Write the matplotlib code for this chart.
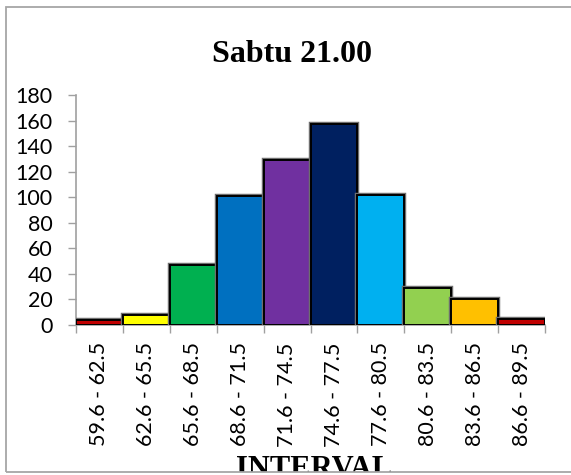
import matplotlib
matplotlib.use("Agg")
import matplotlib.pyplot as plt
from matplotlib.patches import Rectangle
import matplotlib.patheffects as pe

# ---- data ----
categories = ["59.6 - 62.5", "62.6 - 65.5", "65.6 - 68.5", "68.6 - 71.5", "71.6 - 74.5",
              "74.6 - 77.5", "77.6 - 80.5", "80.6 - 83.5", "83.6 - 86.5", "86.6 - 89.5"]
frequencies = [4, 8, 47, 101, 129, 157, 102, 29, 20, 5]
bar_colors = ["#C00000", "#FFFF00", "#00B050", "#0070C0", "#7030A0",
              "#002060", "#00B0F0", "#92D050", "#FFC000", "#C00000"]
y_ticks = [0, 20, 40, 60, 80, 100, 120, 140, 160, 180]
title = "Sabtu 21.00"
x_label = "INTERVAL"

W, H = 571, 475
fig = plt.figure(figsize=(W / 100, H / 100), dpi=100)
fig.patch.set_facecolor("white")

ax = fig.add_axes([76 / W, 1 - 325 / H, (545 - 76) / W, (325 - 95) / H])
xs = list(range(len(categories)))
bars = ax.bar(xs, frequencies, width=1.0, color=bar_colors, edgecolor="black",
              linewidth=1.4, zorder=3)
for b in bars:
    b.set_path_effects([pe.Stroke(linewidth=3.2, foreground="#6e6e6e"), pe.Normal()])

ax.set_xlim(-0.5, len(categories) - 0.5)
ax.set_ylim(0, 180)
ax.set_yticks(y_ticks)
ax.set_yticklabels([str(v) for v in y_ticks], fontfamily="Lato", fontsize=15.5)

ax.set_xticks([i - 0.5 for i in range(len(categories) + 1)])
ax.set_xticklabels([])
ax.set_xticks(xs, minor=True)
ax.set_xticklabels(categories, minor=True, rotation=90, fontfamily="Lato", fontsize=15.5,
                   va="top", ha="center")
ax.tick_params(axis="x", which="minor", length=0, pad=12.5)
ax.tick_params(axis="x", which="major", length=5.8, width=1, color="#a0a0a0", direction="out")
ax.tick_params(axis="y", length=5.8, width=1, color="#a0a0a0", pad=11, direction="out")

for s in ["top", "right"]:
    ax.spines[s].set_visible(False)
for s in ["left", "bottom"]:
    ax.spines[s].set_color("#a0a0a0")
    ax.spines[s].set_linewidth(1.2)

fig.text(292 / W, 1 - 62 / H, title, ha="center", va="baseline",
         fontfamily="Liberation Serif", fontweight="bold", fontsize=23)
fig.text(314 / W, 1 - 477 / H, x_label, ha="center", va="baseline",
         fontfamily="Liberation Serif", fontweight="bold", fontsize=22)

# white cover below the chart border (clips the axis title, as in the original)
fig.patches.append(Rectangle((0, 0), 1, (H - 472) / H, transform=fig.transFigure,
                             facecolor="white", edgecolor="none", zorder=20))
# chart border
fig.patches.append(Rectangle((5.5 / W, (H - 471.7) / H), 1.2, (471.7 - 7) / H,
                             transform=fig.transFigure, facecolor="none",
                             edgecolor="#a6a6a6", linewidth=1.3, zorder=21))

fig.savefig("out.png", dpi=100)
